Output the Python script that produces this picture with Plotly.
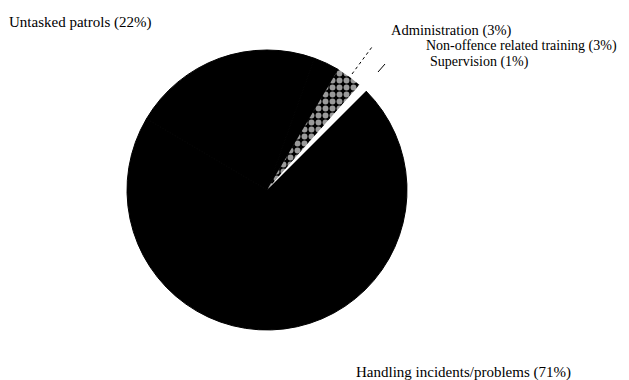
import plotly.graph_objects as go

labels = ["Handling incidents/problems", "Untasked patrols", "Administration",
          "Non-offence related training", "Supervision"]
values = [71, 22, 3, 3, 1]
label_texts = ["Handling incidents/problems (71%)", "Untasked patrols (22%)",
               "Administration (3%)", "Non-offence related training (3%)",
               "Supervision (1%)"]

W, H = 629, 380

fig = go.Figure(go.Pie(
    labels=labels,
    values=values,
    sort=False,
    direction="clockwise",
    rotation=45,
    textinfo="none",
    hoverinfo="label+percent",
    marker=dict(
        colors=["#000000", "#000000", "#000000", "#000000", "#ffffff"],
        line=dict(width=[1, 1, 1, 0, 0], color="#000000"),
        pattern=dict(
            shape=["", "", "", ".", ""],
            fgcolor=["#000000", "#000000", "#000000", "#9a9a9a", "#000000"],
            bgcolor=["#000000", "#000000", "#000000", "#000000", "#ffffff"],
            size=7,
            solidity=0.55,
        ),
    ),
    domain=dict(x=[127 / W, 407 / W], y=[1 - 330 / H, 1 - 50 / H]),
    showlegend=False,
))

# (x px, y px, font size)
label_pos = {
    "Untasked patrols": (8, 23, 15),
    "Administration": (390, 30, 14.5),
    "Non-offence related training": (425, 46, 14),
    "Supervision": (429, 62, 14),
    "Handling incidents/problems": (355, 372, 15),
}
annotations = []
for lab, txt in zip(labels, label_texts):
    px, py, fs = label_pos[lab]
    annotations.append(dict(
        x=px / W, y=1 - py / H, xref="paper", yref="paper",
        text=txt, showarrow=False, xanchor="left", yanchor="middle",
        font=dict(family="Liberation Serif, DejaVu Serif, Times New Roman, serif", size=fs, color="#000000"),
        borderpad=0,
    ))

shapes = [
    dict(type="line", xref="paper", yref="paper",
         x0=352 / W, y0=1 - 74 / H, x1=372 / W, y1=1 - 47 / H,
         line=dict(color="#000000", width=1, dash="dot")),
    dict(type="line", xref="paper", yref="paper",
         x0=378 / W, y0=1 - 72 / H, x1=385 / W, y1=1 - 64 / H,
         line=dict(color="#000000", width=1)),
]

fig.update_layout(
    width=W, height=H,
    margin=dict(l=0, r=0, t=0, b=0),
    paper_bgcolor="#ffffff",
    plot_bgcolor="#ffffff",
    font=dict(family="Liberation Serif, DejaVu Serif, Times New Roman, serif"),
    annotations=annotations,
    shapes=shapes,
)

fig.write_html("out.html")
